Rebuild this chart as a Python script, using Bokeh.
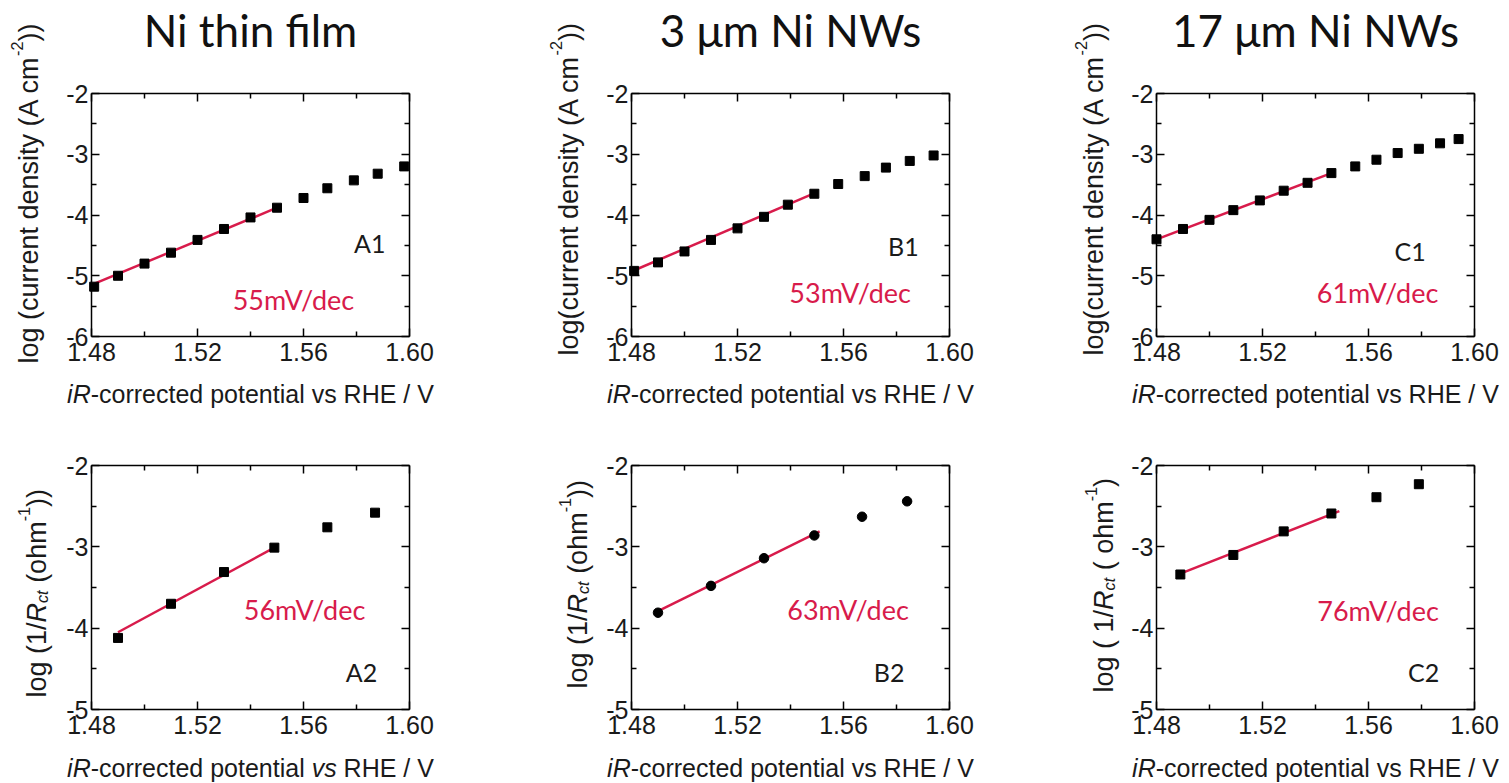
import math
from bokeh.plotting import figure
from bokeh.models import (Range1d, LinearAxis, FixedTicker, PrintfTickFormatter,
                          CustomJSTickFormatter, Label)
from bokeh.layouts import column, row
from bokeh.embed import file_html
from bokeh.resources import INLINE

# ---------------- data ----------------
titles = ["Ni thin film", "3 \u03bcm Ni NWs", "17 \u03bcm Ni NWs"]
tags = ["A1", "B1", "C1", "A2", "B2", "C2"]
slopes = ["55mV/dec", "53mV/dec", "61mV/dec", "56mV/dec", "63mV/dec", "76mV/dec"]

x_ticks = [1.48, 1.52, 1.56, 1.60]
x_minor = [1.50, 1.54, 1.58]
y_ticks_top = [-6, -5, -4, -3, -2]
y_minor_top = [-5.5, -4.5, -3.5, -2.5]
y_ticks_bot = [-5, -4, -3, -2]
y_minor_bot = [-4.5, -3.5, -2.5]

A1_x = [1.481, 1.490, 1.500, 1.510, 1.520, 1.530, 1.540, 1.550, 1.560, 1.569, 1.579, 1.588, 1.598]
A1_y = [-5.18, -5.00, -4.80, -4.62, -4.41, -4.23, -4.04, -3.88, -3.72, -3.56, -3.43, -3.32, -3.20]
A1_fit_x = [1.480, 1.550]
A1_fit_y = [-5.15, -3.88]

B1_x = [1.481, 1.490, 1.500, 1.510, 1.520, 1.530, 1.539, 1.549, 1.558, 1.568, 1.576, 1.585, 1.594]
B1_y = [-4.92, -4.78, -4.60, -4.41, -4.22, -4.03, -3.83, -3.65, -3.49, -3.36, -3.22, -3.11, -3.02]
B1_fit_x = [1.480, 1.548]
B1_fit_y = [-4.93, -3.66]

C1_x = [1.480, 1.490, 1.500, 1.509, 1.519, 1.528, 1.537, 1.546, 1.555, 1.563, 1.571, 1.579, 1.587, 1.594]
C1_y = [-4.40, -4.23, -4.08, -3.92, -3.76, -3.60, -3.47, -3.31, -3.20, -3.09, -2.98, -2.91, -2.82, -2.75]
C1_fit_x = [1.480, 1.546]
C1_fit_y = [-4.40, -3.31]

A2_x = [1.490, 1.510, 1.530, 1.549, 1.569, 1.587]
A2_y = [-4.12, -3.70, -3.31, -3.01, -2.76, -2.58]
A2_fit_x = [1.490, 1.549]
A2_fit_y = [-4.05, -3.01]

B2_x = [1.490, 1.510, 1.530, 1.549, 1.567, 1.584]
B2_y = [-3.81, -3.48, -3.14, -2.86, -2.63, -2.44]
B2_fit_x = [1.490, 1.551]
B2_fit_y = [-3.79, -2.81]

C2_x = [1.489, 1.509, 1.528, 1.546, 1.563, 1.579]
C2_y = [-3.34, -3.10, -2.81, -2.59, -2.39, -2.23]
C2_fit_x = [1.489, 1.549]
C2_fit_y = [-3.33, -2.56]

# annotation anchor positions (data units, text baseline)
tag_pos = [(1.585, -4.62), (1.5826, -4.68), (1.5757, -4.75),
           (1.5819, -4.656), (1.5772, -4.656), (1.5808, -4.656)]
slope_pos = [(1.5562, -5.556), (1.5625, -5.44), (1.5634, -5.44),
             (1.5604, -3.893), (1.5617, -3.893), (1.5636, -3.906)]

# ---------------- layout / style ----------------
RED = "#d81b4b"
AX_FONT = "Liberation Sans"
ANN_FONT = "Lato"
BASE_CORR = 10  # px, compensation of rendered baseline shift
NB = "\u00a0"

W = {' ': 278, NB: 278, '(': 333, ')': 333, '-': 333, '.': 278, '/': 278, '1': 556, '2': 556,
     'A': 667, 'C': 722, 'E': 667, 'H': 722, 'R': 722, 'V': 667, 'a': 556, 'c': 500,
     'd': 556, 'e': 556, 'g': 556, 'h': 556, 'i': 222, 'l': 222, 'm': 833, 'n': 556,
     'o': 556, 'p': 556, 'r': 333, 's': 500, 't': 278, 'u': 556, 'v': 500, 'y': 500}


def tw(s, fs):
    return sum(W.get(ch, 556) for ch in s) * fs / 1000.0


def compose(p, segs, fs, x0, y0, rotated, center=None):
    """segs: list of (text, style, scale, shift_em). Screen units of the frame."""
    total = sum(tw(t, fs * sc) for t, st, sc, sh in segs)
    pos = y0 if rotated else x0
    if center is not None:
        pos = center - total / 2.0
    for t, st, sc, sh in segs:
        size = fs * sc
        shown = t
        if shown.startswith(" "):
            shown = NB + shown[1:]
        if shown.endswith(" "):
            shown = shown[:-1] + NB
        if rotated:
            lx, ly, ang = x0 - sh * fs - BASE_CORR, pos, math.pi / 2
        else:
            lx, ly, ang = pos, y0 + sh * fs + BASE_CORR, 0
        p.add_layout(Label(x=lx, y=ly, x_units="screen", y_units="screen", text=shown,
                           angle=ang, text_font=AX_FONT, text_font_size=f"{size:.1f}px",
                           text_font_style=st, text_color="#1a1a1a",
                           text_align="left", text_baseline="alphabetic"))
        pos += tw(t, size)


FW = 318
col_left = [0, 540, 1065]
col_w = [540, 525, 444]
frame_left = [91, 631, 1156]
row_top = [0, 430]
row_h = [430, 353]
frame_top = [93, 465]
frame_h = [243, 244]
y_lims = [(-6, -2), (-5, -2)]


def make_fig(c, r):
    w, h = col_w[c], row_h[r]
    kx = 0.12 / FW
    ylo, yhi = y_lims[r]
    ky = (yhi - ylo) / frame_h[r]
    fl = frame_left[c] - col_left[c]
    fr = w - fl - FW
    ft = frame_top[r] - row_top[r]
    fb = h - ft - frame_h[r]
    p = figure(width=w, height=h,
               x_range=Range1d(1.48 - fl * kx, 1.60 + fr * kx),
               y_range=Range1d(ylo - fb * ky, yhi + ft * ky),
               output_backend="svg", toolbar_location=None,
               x_axis_location=None, y_axis_location=None,
               min_border=0, background_fill_color="white", border_fill_color="white")
    p.outline_line_color = None
    p.grid.visible = False
    yt = y_ticks_top if r == 0 else y_ticks_bot
    ym = y_minor_top if r == 0 else y_minor_bot
    xt = FixedTicker(ticks=x_ticks, minor_ticks=x_minor)
    ytk = FixedTicker(ticks=yt, minor_ticks=ym)
    axes = {
        "below": LinearAxis(ticker=xt, fixed_location=ylo, bounds=(1.48, 1.60),
                            formatter=PrintfTickFormatter(format="%.2f"), major_label_standoff=6),
        "above": LinearAxis(ticker=xt, fixed_location=yhi, bounds=(1.48, 1.60),
                            formatter=CustomJSTickFormatter(code="return ''")),
        "left": LinearAxis(ticker=ytk, fixed_location=1.48, bounds=(ylo, yhi),
                           formatter=PrintfTickFormatter(format="%d"), major_label_standoff=3),
        "right": LinearAxis(ticker=ytk, fixed_location=1.60, bounds=(ylo, yhi),
                            formatter=CustomJSTickFormatter(code="return ''")),
    }
    for side, ax in axes.items():
        ax.axis_line_width = 1.5
        ax.axis_line_color = "black"
        ax.major_tick_in = 8
        ax.major_tick_out = 0
        ax.minor_tick_in = 5
        ax.minor_tick_out = 0
        ax.major_tick_line_width = 1.5
        ax.minor_tick_line_width = 1.5
        ax.major_tick_line_color = "black"
        ax.minor_tick_line_color = "black"
        ax.major_label_text_font = AX_FONT
        ax.major_label_text_font_size = "25px"
        ax.major_label_text_color = "#1a1a1a"
        p.add_layout(ax, side)
    return p, ky


series = [
    (A1_x, A1_y, A1_fit_x, A1_fit_y, "square"),
    (B1_x, B1_y, B1_fit_x, B1_fit_y, "square"),
    (C1_x, C1_y, C1_fit_x, C1_fit_y, "square"),
    (A2_x, A2_y, A2_fit_x, A2_fit_y, "square"),
    (B2_x, B2_y, B2_fit_x, B2_fit_y, "circle"),
    (C2_x, C2_y, C2_fit_x, C2_fit_y, "square"),
]

SUP = 0.45
SUB = -0.2
ylab_top = [
    [("log (current density (A cm", "normal", 1, 0), ("-2", "normal", 0.6, SUP), ("))", "normal", 1, 0)],
    [("log(current density (A cm", "normal", 1, 0), ("-2", "normal", 0.6, SUP), ("))", "normal", 1, 0)],
    [("log(current density (A cm", "normal", 1, 0), ("-2", "normal", 0.6, SUP), ("))", "normal", 1, 0)],
]
ylab_bot = [
    [("log (1/", "normal", 1, 0), ("R", "italic", 1, 0), ("ct", "italic", 0.6, SUB),
     (" (ohm", "normal", 1, 0), ("-1", "normal", 0.6, SUP), ("))", "normal", 1, 0)],
    [("log (1/", "normal", 1, 0), ("R", "italic", 1, 0), ("ct", "italic", 0.6, SUB),
     (" (ohm", "normal", 1, 0), ("-1", "normal", 0.6, SUP), ("))", "normal", 1, 0)],
    [("log ( 1/", "normal", 1, 0), ("R", "italic", 1, 0), ("ct", "italic", 0.6, SUB),
     (" ( ohm", "normal", 1, 0), ("-1", "normal", 0.6, SUP), (")", "normal", 1, 0)],
]
# page-pixel anchors for the y labels: (baseline x, start y)
ylab_anchor = [[(38.5, 363), (578, 355), (1103, 355)],
               [(46, 697), (587, 688), (1113, 692)]]
xlab_baseline = [403, 777]
title_baseline = 45

figs = [[], []]
for i in range(6):
    c, r = i % 3, i // 3
    p, ky = make_fig(c, r)
    h = row_h[r]

    def sx(px):
        return px - col_left[c]

    def sy(py):
        return row_top[r] + h - py

    xs, ys, fx, fy, mk = series[i]
    p.line(fx, fy, line_color=RED, line_width=2.5)
    p.scatter(xs, ys, marker=mk, size=9 if mk == "square" else 9.5,
              fill_color="black", line_color="black")
    tx, ty = tag_pos[i]
    p.add_layout(Label(x=tx, y=ty + BASE_CORR * ky, text=tags[i], text_font=ANN_FONT,
                       text_font_size="25px", text_color="#1a1a1a", text_align="center",
                       text_baseline="alphabetic"))
    px_, py_ = slope_pos[i]
    p.add_layout(Label(x=px_, y=py_ + BASE_CORR * ky, text=slopes[i], text_font=ANN_FONT,
                       text_font_size="27px", text_color=RED, text_align="center",
                       text_baseline="alphabetic"))
    vs_style = "italic" if i == 3 else "normal"
    xsegs = [("iR", "italic", 1, 0), ("-corrected potential ", "normal", 1, 0),
             ("vs", vs_style, 1, 0), (" RHE / V", "normal", 1, 0)]
    compose(p, xsegs, 25, 0, sy(xlab_baseline[r]), rotated=False,
            center=sx(frame_left[c]) + FW / 2)
    bx, by = ylab_anchor[r][c]
    segs = ylab_top[c] if r == 0 else ylab_bot[c]
    compose(p, segs, 27, sx(bx), sy(by), rotated=True)
    if r == 0:
        p.add_layout(Label(x=sx(frame_left[c]) + FW / 2, y=sy(title_baseline) + BASE_CORR * 1.6,
                           x_units="screen", y_units="screen", text=titles[c],
                           text_font=ANN_FONT, text_font_size="44px", text_color="#111111",
                           text_align="center", text_baseline="alphabetic"))
    figs[r].append(p)

layout = column(row(*figs[0], spacing=0), row(*figs[1], spacing=0), spacing=0)
open("out.html", "w").write(file_html(layout, INLINE))
